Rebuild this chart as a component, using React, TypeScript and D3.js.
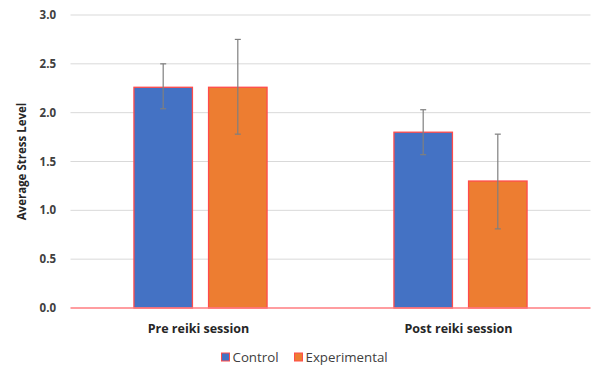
import React from "react";
import * as d3 from "d3";

const categories = ["Pre reiki session", "Post reiki session"];
const seriesNames = ["Control", "Experimental"];
const controlValues = [2.26, 1.80];
const experimentalValues = [2.26, 1.30];
const controlErrLow = [2.04, 1.57];
const controlErrHigh = [2.50, 2.03];
const experimentalErrLow = [1.78, 0.81];
const experimentalErrHigh = [2.75, 1.78];
const yTicks = [0, 0.5, 1.0, 1.5, 2.0, 2.5, 3.0];
const colors = ["#4472C4", "#ED7D31"];

const W = 600, H = 374;
const left = 70.5, right = 590.5, top = 15, bottom = 308;

export default function App() {
  const x = d3.scaleBand().domain(categories).range([left, right]).paddingInner(0).paddingOuter(0);
  const bw = x.bandwidth();
  const sub = d3.scaleBand().domain(seriesNames).range([bw * 0.244, bw * 0.756]).paddingInner(0.216).paddingOuter(0);
  const y = d3.scaleLinear().domain([0, 3]).range([bottom, top]);
  const values = [controlValues, experimentalValues];
  const lows = [controlErrLow, experimentalErrLow];
  const highs = [controlErrHigh, experimentalErrHigh];
  const font = "'Open Sans', 'Liberation Sans', sans-serif";
  return (
    <svg width={W} height={H} style={{ position: "absolute", left: 0, top: 0, background: "#fff" }}>
      {yTicks.slice(1).map((t) => (
        <line key={t} x1={left} x2={right} y1={y(t)} y2={y(t)} stroke="#d9d9d9" strokeWidth={1} />
      ))}
      {yTicks.map((t) => (
        <text key={t} x={56} y={y(t)} dy="0.35em" textAnchor="end" fontFamily={font} fontWeight="bold" fontSize={11.5} fill="#404040">
          {d3.format(".1f")(t)}
        </text>
      ))}
      <text transform={`translate(26,${(top + bottom) / 2}) rotate(-90)`} textAnchor="middle" fontFamily={font} fontWeight="bold" fontSize={11.5} fill="#262626">
        Average Stress Level
      </text>
      {categories.map((c, i) => (
        <g key={c}>
          {seriesNames.map((s, j) => {
            const bx = (x(c) as number) + (sub(s) as number);
            const v = values[j][i];
            const cx = bx + sub.bandwidth() / 2;
            return (
              <g key={s}>
                <rect x={bx} y={y(v)} width={sub.bandwidth()} height={y(0) - y(v)} fill={colors[j]} stroke="#FF4B4B" strokeWidth={1.3} />
                <line x1={cx} x2={cx} y1={y(highs[j][i])} y2={y(lows[j][i])} stroke="#7f7f7f" strokeWidth={1.2} />
                <line x1={cx - 3} x2={cx + 3} y1={y(highs[j][i])} y2={y(highs[j][i])} stroke="#7f7f7f" strokeWidth={1.2} />
                <line x1={cx - 3} x2={cx + 3} y1={y(lows[j][i])} y2={y(lows[j][i])} stroke="#7f7f7f" strokeWidth={1.2} />
              </g>
            );
          })}
          <text x={(x(c) as number) + bw / 2 - 2} y={333} textAnchor="middle" fontFamily={font} fontWeight="bold" fontSize={12.5} fill="#262626">
            {c}
          </text>
        </g>
      ))}
      <line x1={left} x2={right} y1={y(0)} y2={y(0)} stroke="#FF7C80" strokeWidth={1.3} />
      {seriesNames.map((s, j) => {
        const lx = j === 0 ? 221.5 : 294.5;
        return (
          <g key={s}>
            <rect x={lx} y={353} width={8} height={8} fill={colors[j]} stroke="#FF4B4B" strokeWidth={1} />
            <text x={lx + 11} y={361.5} fontFamily={font} fontSize={13.3} fill="#404040">{s}</text>
          </g>
        );
      })}
    </svg>
  );
}
